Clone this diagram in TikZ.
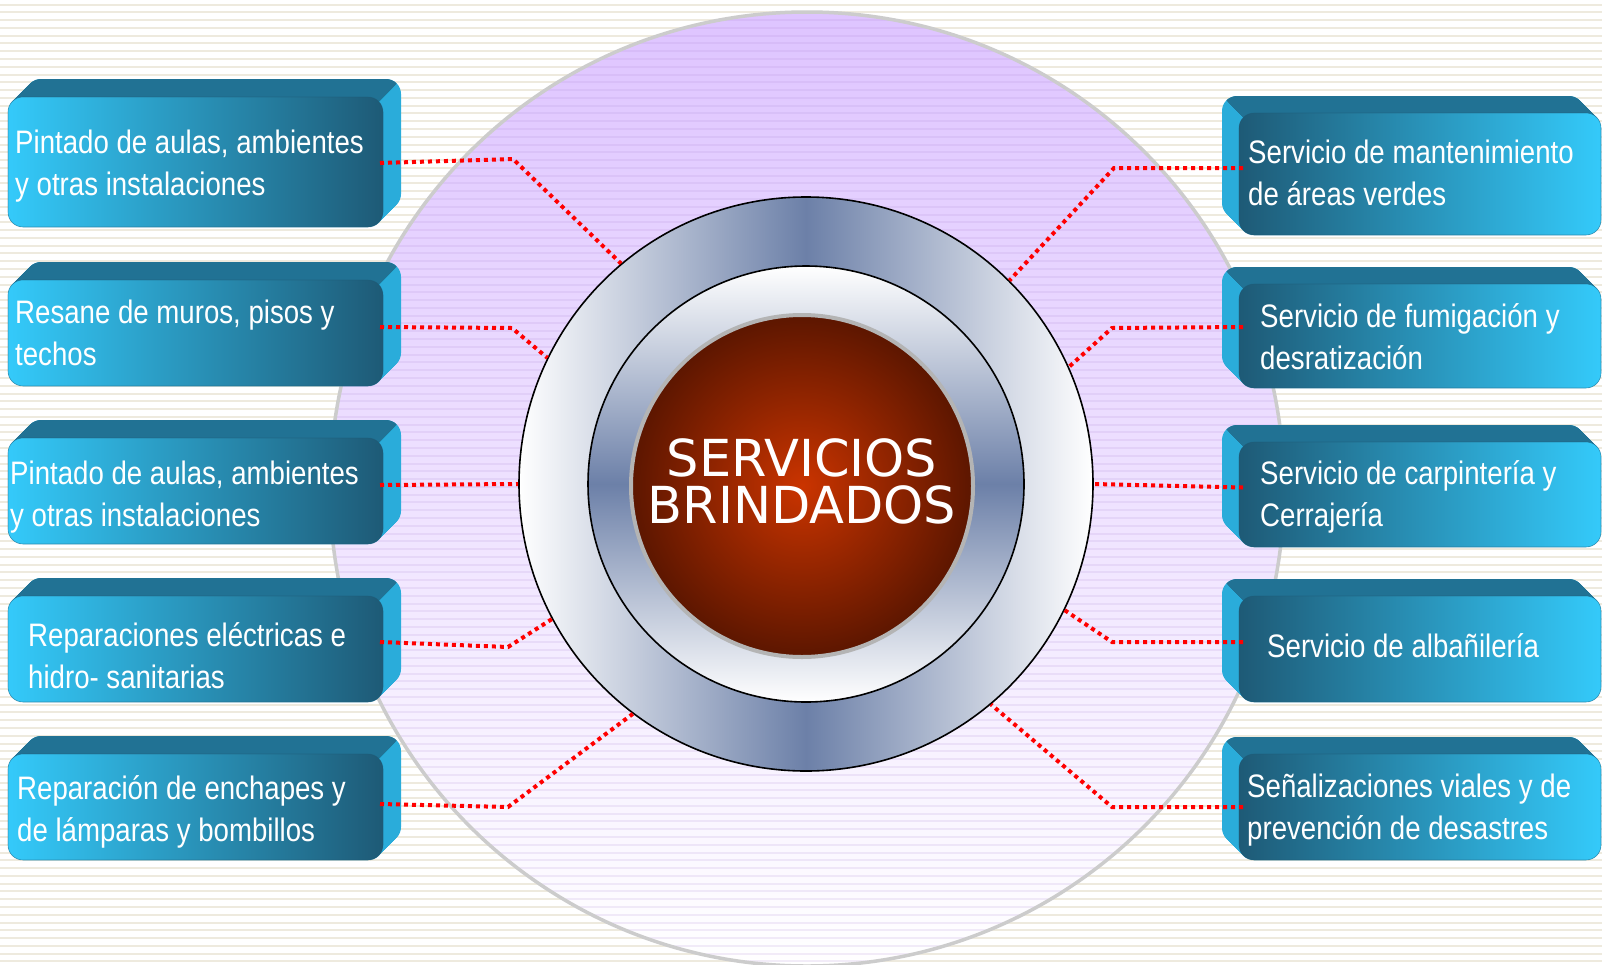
\documentclass[tikz,border=0pt]{standalone}
\usepackage{fontspec}
\setmainfont{Liberation Sans}
\newfontfamily\boxfont{Liberation Sans}[FakeStretch=0.85]
\newfontfamily\titlefont{DejaVu Sans}
\definecolor{stripe}{RGB}{238,234,222}
\definecolor{lavline}{RGB}{175,140,215}
\definecolor{lav}{RGB}{222,196,255}
\definecolor{slate}{RGB}{108,128,168}
\definecolor{cyanA}{RGB}{52,202,250}
\definecolor{tealD}{RGB}{30,90,118}
\definecolor{topF}{RGB}{33,114,148}
\definecolor{sideF}{RGB}{42,172,218}
\definecolor{coreIn}{RGB}{202,52,0}
\definecolor{coreOut}{RGB}{92,22,0}
\definecolor{coreRim}{RGB}{180,180,180}
\definecolor{bigRim}{RGB}{204,204,204}
\pgfdeclarehorizontalshading{ringH}{100bp}{color(0bp)=(white); color(25bp)=(white); color(50bp)=(slate); color(75bp)=(white); color(100bp)=(white)}
\pgfdeclareverticalshading{ringV}{100bp}{color(0bp)=(white); color(25bp)=(white); color(50bp)=(slate); color(75bp)=(white); color(100bp)=(white)}
\tikzset{
  frontL/.style={rectangle, rounded corners=15pt, left color=cyanA, right color=tealD, draw=tealD, draw opacity=0.5, line width=0.6pt, inner sep=0pt, outer sep=0pt, anchor=north west},
  frontR/.style={rectangle, rounded corners=15pt, left color=tealD, right color=cyanA, draw=tealD, draw opacity=0.5, line width=0.6pt, inner sep=0pt, outer sep=0pt, anchor=north west},
  boxtext/.style={font=\boxfont\fontsize{32.5}{42}\selectfont, text=white, align=left, inner sep=0pt, anchor=north west},
  redline/.style={draw=red, line width=4pt, dash pattern=on 4pt off 4pt},
}
\newcommand\LBox[5]{%
  \foreach \k in {0,...,18}{\fill[sideF, rounded corners=15pt] (#2+\k,#3-\k) rectangle (#4+\k,#5-\k);}
  \begin{scope}
    \clip (#4-5,#3+5) -- (#4+45,#3-45) -- (#2-10,#3-45) -- (#2-10,#3+5) -- cycle;
    \foreach \k in {0,...,18}{\fill[topF, rounded corners=15pt] (#2+\k,#3-\k) rectangle (#4+\k,#5-\k);}
  \end{scope}
  \node[frontL, minimum width={(#4-#2)*1pt}, minimum height={(#5-#3)*1pt}] (#1) at (#2,#3) {};
}
\newcommand\RBox[5]{%
  \foreach \k in {0,...,17}{\fill[sideF, rounded corners=15pt] (#2-\k,#3-\k) rectangle (#4-\k,#5-\k);}
  \begin{scope}
    \clip (#2+5,#3+5) -- (#2-45,#3-45) -- (#4+10,#3-45) -- (#4+10,#3+5) -- cycle;
    \foreach \k in {0,...,17}{\fill[topF, rounded corners=15pt] (#2-\k,#3-\k) rectangle (#4-\k,#5-\k);}
  \end{scope}
  \node[frontR, minimum width={(#4-#2)*1pt}, minimum height={(#5-#3)*1pt}] (#1) at (#2,#3) {};
}
\begin{document}
\begin{tikzpicture}[x=1pt,y=-1pt]
\useasboundingbox (0,0) rectangle (1602,964);
\fill[white] (0,0) rectangle (1602,964);
\foreach \i in {0,...,123} {\fill[stripe] (0,{3.5+7.78*\i}) rectangle (1602,{5.5+7.78*\i});}
% big circle
\shade[top color=lav, bottom color=white] (807,489) circle (477);
\begin{scope}
  \clip (807,489) circle (477);
  \foreach \i in {0,...,123} {\fill[lavline, opacity=0.16] (0,{3.5+7.78*\i}) rectangle (1602,{5.5+7.78*\i});}
\end{scope}
\draw[bigRim, line width=3.5pt] (807,489) circle (477);
% rings
\node[circle, minimum size=574pt, inner sep=0pt, shading=ringH, draw=black, line width=1.6pt] (ring) at (806,484) {};
\node[circle, minimum size=436pt, inner sep=0pt, shading=ringV, draw=black, line width=1.6pt] (inring) at (806,484) {};
\node[circle, minimum size=342pt, inner sep=0pt, inner color=coreIn, outer color=coreOut, draw=coreRim, line width=4pt] (core) at (802,486) {};
\node[font=\titlefont\fontsize{51}{47}\selectfont, text=white, align=center, inner sep=0pt] (title) at (802,481) {SERVICIOS\\BRINDADOS};
% left boxes
\LBox{L1}{8}{97}{383}{227}
\LBox{L2}{8}{280}{383}{386}
\LBox{L3}{8}{438}{383}{544}
\LBox{L4}{8}{596}{383}{702}
\LBox{L5}{8}{754}{383}{860}
\RBox{R1}{1239}{113}{1601}{235}
\RBox{R2}{1239}{284}{1601}{388}
\RBox{R3}{1239}{442}{1601}{547}
\RBox{R4}{1239}{596}{1601}{702}
\RBox{R5}{1239}{754}{1601}{860}
\node[boxtext] (tL1) at (15,123.6) {\strut Pintado de aulas, ambientes\\y otras instalaciones};
\node[boxtext] (tL2) at (15,293.6) {\strut Resane de muros, pisos y\\techos};
\node[boxtext] (tL3) at (10,454.6) {\strut Pintado de aulas, ambientes\\y otras instalaciones};
\node[boxtext] (tL4) at (28,616.6) {\strut Reparaciones eléctricas e\\hidro- sanitarias};
\node[boxtext] (tL5) at (17,769.6) {\strut Reparación de enchapes y\\de lámparas y bombillos};
\node[boxtext] (tR1) at (1248,133.6) {\strut Servicio de mantenimiento\\de áreas verdes};
\node[boxtext] (tR2) at (1260,297.6) {\strut Servicio de fumigación y\\desratización};
\node[boxtext] (tR3) at (1260,454.6) {\strut Servicio de carpintería y\\Cerrajería};
\node[boxtext] (tR4) at (1267,627.6) {\strut Servicio de albañilería};
\node[boxtext] (tR5) at (1247,767.6) {\strut Señalizaciones viales y de\\prevención de desastres};
% kinks
\coordinate (k1) at (513,159);
\coordinate (k2) at (512,328);
\coordinate (k4) at (508,647);
\coordinate (k5) at (508,807);
\coordinate (kr1) at (1114,168);
\coordinate (kr2) at (1112,328);
\coordinate (kr4) at (1112,642);
\coordinate (kr5) at (1112,807);
% connectors
\draw[redline] ([xshift=-3pt,yshift=-1pt]L1.east) -- (k1) -- (ring.130);
\draw[redline] ([xshift=-3pt,yshift=6pt]L2.east) -- (k2) -- (ring.154);
\draw[redline] ([xshift=-3pt,yshift=6pt]L3.east) -- (ring.180);
\draw[redline] ([xshift=-3pt,yshift=7pt]L4.east) -- (k4) -- (ring.208);
\draw[redline] ([xshift=-3pt,yshift=3pt]L5.east) -- (k5) -- (ring.233);
\draw[redline] ([xshift=4pt,yshift=6pt]R1.west) -- (kr1) -- (ring.45);
\draw[redline] ([xshift=4pt,yshift=9pt]R2.west) -- (kr2) -- (ring.24);
\draw[redline] ([xshift=4pt,yshift=7pt]R3.west) -- (ring.-0.6);
\draw[redline] ([xshift=4pt,yshift=7pt]R4.west) -- (kr4) -- (ring.-26);
\draw[redline] ([xshift=4pt]R5.west) -- (kr5) -- (ring.-50);
\end{tikzpicture}
\end{document}
